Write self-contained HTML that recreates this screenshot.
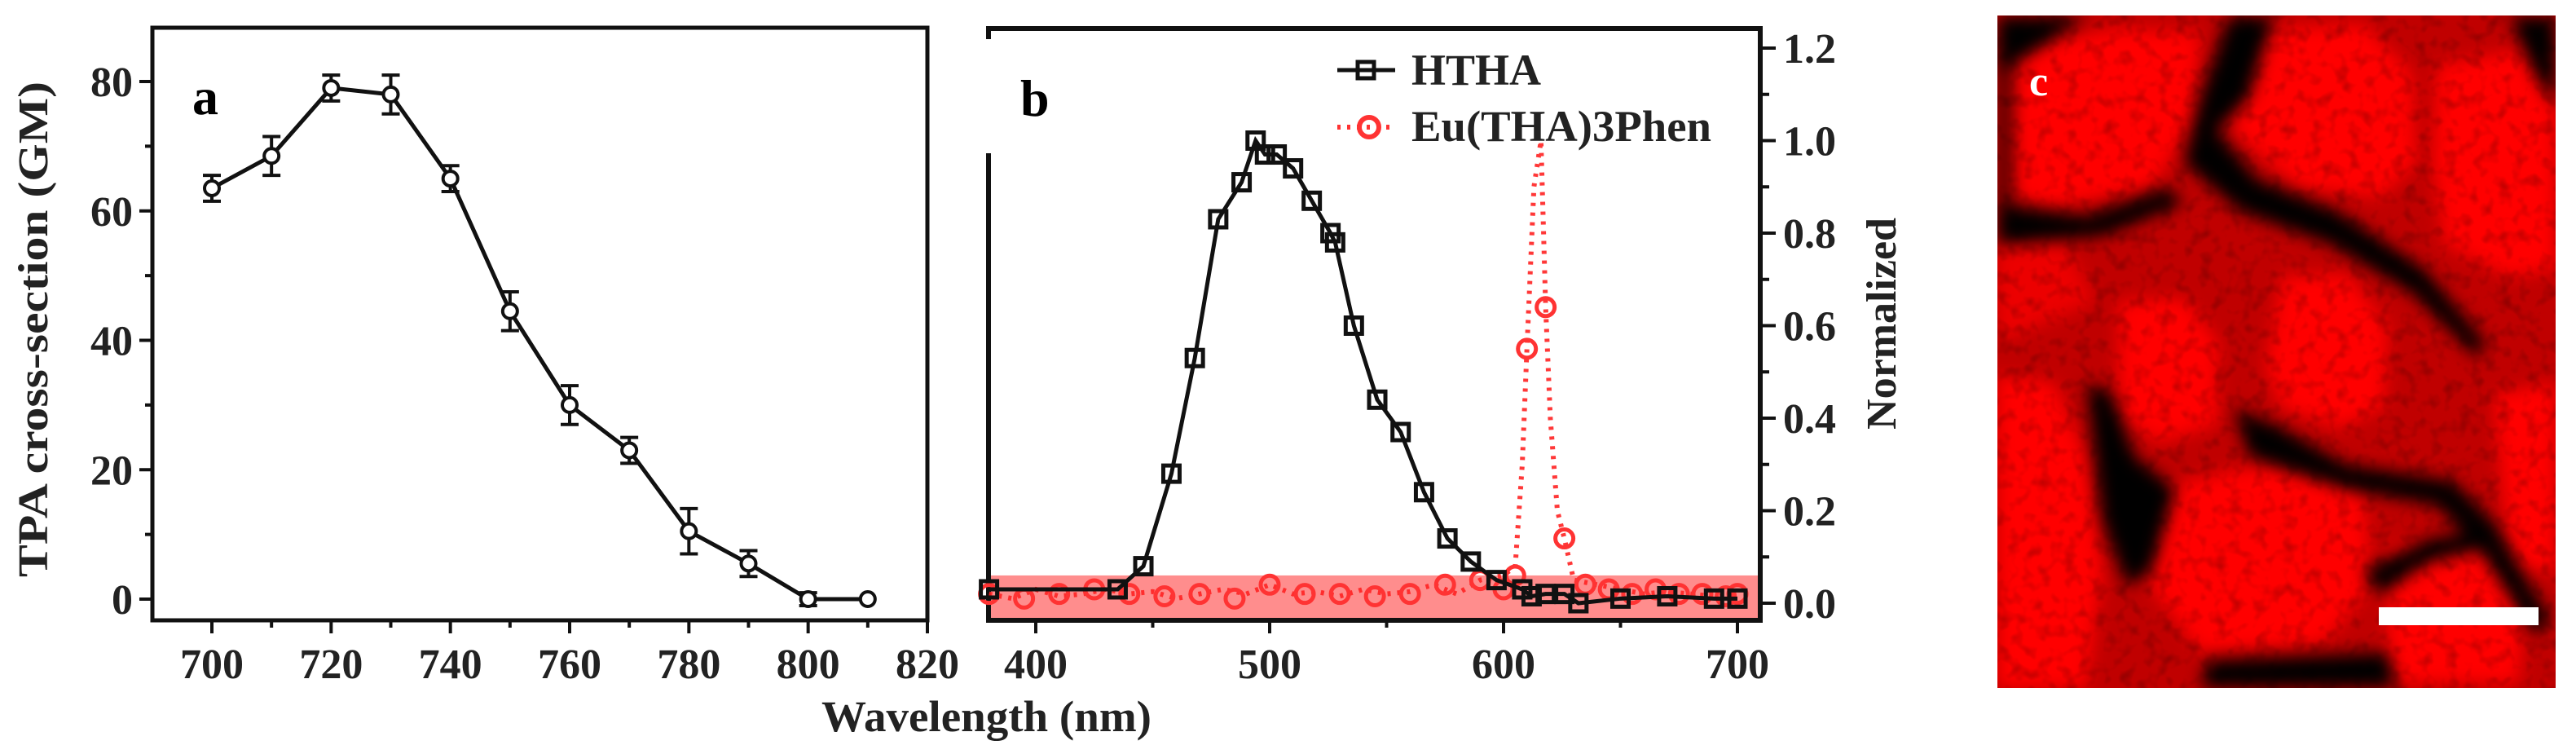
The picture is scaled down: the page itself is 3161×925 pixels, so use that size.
<!DOCTYPE html>
<html><head><meta charset="utf-8"><style>
html,body{margin:0;padding:0;background:#fff;}
svg{display:block;}
text{font-family:"Liberation Serif",serif;font-weight:bold;}
</style></head><body>
<svg id="fig" width="3161" height="925" viewBox="0 0 3161 925" xmlns="http://www.w3.org/2000/svg">
<defs>
<filter id="blur6" x="-20%" y="-20%" width="140%" height="140%"><feGaussianBlur stdDeviation="10"/></filter>
<filter id="blur3"><feGaussianBlur stdDeviation="3"/></filter>
<filter id="noise"><feTurbulence type="fractalNoise" baseFrequency="0.06" numOctaves="2" seed="3"/><feColorMatrix type="matrix" values="0 0 0 0 0  0 0 0 0 0  0 0 0 0 0  0 0 0 1.6 -0.75"/></filter>
<clipPath id="clipC"><rect x="2451" y="19" width="685" height="825"/></clipPath>
</defs>
<g id="panelA"></g>
<g id="panelB"></g>
<g id="panelC" clip-path="url(#clipC)">
  <rect x="2451" y="19" width="685" height="825" fill="#c00000"/>
  <g filter="url(#blur6)" fill="#ff0000">
    <path d="M2470,60 L2600,35 L2700,40 L2690,150 L2640,230 L2520,254 L2469,240 Z"/>
    <path d="M2735,70 L2790,35 L2900,30 L2960,90 L2965,200 L2920,242 L2820,230 L2740,160 Z"/>
    <path d="M2990,80 L3100,60 L3136,120 L3136,330 L3080,340 L3000,300 L2985,200 Z"/>
    <path d="M2800,340 L2880,336 L2930,400 L2925,500 L2870,525 L2800,500 L2780,450 Z"/>
    <path d="M2600,370 L2680,366 L2722,420 L2720,520 L2650,543 L2600,510 Z"/>
    <path d="M2451,460 L2520,470 L2560,560 L2580,700 L2560,844 L2451,844 Z"/>
    <path d="M2640,600 L2780,570 L2900,600 L2910,720 L2850,790 L2700,800 L2640,720 Z"/>
    <path d="M3060,484 L3136,470 L3136,700 L3080,700 Z"/>
    <path d="M2930,670 L3050,660 L3100,720 L3090,838 L2930,838 Z"/>
    <path d="M2451,290 L2530,290 L2570,370 L2451,420 Z" opacity="0.7"/>
  </g>
  <rect x="2451" y="19" width="685" height="825" filter="url(#noise)" opacity="0.35"/>
  <g filter="url(#blur6)" fill="#000">
    <path d="M2735,20 L2790,20 L2760,120 L2720,160 L2770,220 L2870,260 L2975,330 L3050,420 L3040,440 L2960,360 L2860,300 L2750,260 L2680,200 L2700,120 Z"/>
    <path d="M2451,250 L2560,265 L2660,230 L2680,250 L2580,290 L2451,300 Z"/>
    <path d="M2451,20 L2560,20 L2470,80 L2451,90 Z"/>
    <path d="M2560,470 L2590,480 L2620,560 L2670,600 L2640,700 L2610,720 L2580,640 Z"/>
    <path d="M2740,500 L2790,520 L2880,570 L3010,590 L3060,640 L3130,760 L3110,780 L3040,670 L2990,620 L2880,600 L2760,560 Z"/>
    <path d="M2710,810 L2930,800 L2940,844 L2700,844 Z"/>
    <path d="M2900,700 L2980,660 L3050,650 L3060,670 L2980,690 L2920,730 Z"/>
    <path d="M3080,20 L3136,20 L3136,130 L3110,90 Z"/>
    <path d="M2451,60 L2470,60 L2470,300 L2451,300 Z" opacity="0.6"/>
  </g>
  <rect x="2919" y="745" width="196" height="22" fill="#fff"/>
  <text x="2490" y="117" font-size="52" fill="#fff">c</text>
</g>
<script>
// ---------- Panel a data ----------
const aWavelengths = [700,710,720,730,740,750,760,770,780,790,800,810];
const aValues = [63.5,68.5,79,78,65,44.5,30,23,10.5,5.5,0,0];
const aErrors = [2,3,2,3,2,3,3,2,3.5,2,1,0];
const aXTicks = [700,720,740,760,780,800,820];
const aYTicks = [0,20,40,60,80];
// ---------- Panel b data ----------
const hthaX = [380,435,446,458,468,478,488,494,498,503,510,518,526,528,536,546,556,566,576,586,597,608,612,618,626,632,650,670,690,700];
const hthaY = [0.03,0.03,0.08,0.28,0.53,0.83,0.91,1.0,0.97,0.97,0.94,0.87,0.80,0.78,0.60,0.44,0.37,0.24,0.14,0.09,0.05,0.03,0.015,0.02,0.02,0.0,0.01,0.015,0.01,0.01];
const euX = [380,390,400,410,420,430,440,450,460,470,480,490,500,510,520,530,540,550,560,570,580,590,600,605,608,610,613,616,618,620,623,626,630,640,650,660,670,680,690,700];
const euY = [0.02,0.01,0.03,0.015,0.02,0.03,0.02,0.025,0.01,0.02,0.03,0.02,0.04,0.02,0.025,0.015,0.03,0.02,0.025,0.04,0.02,0.05,0.06,0.08,0.3,0.55,0.9,1.0,0.64,0.4,0.2,0.14,0.05,0.04,0.03,0.02,0.025,0.02,0.015,0.02];
const euMarkX = [380,395,410,425,440,455,470,485,500,515,530,545,560,575,590,600,605,610,618,626,635,645,655,665,675,685,695,700];
const euMarkY = [0.02,0.01,0.02,0.03,0.02,0.015,0.02,0.01,0.04,0.02,0.02,0.015,0.02,0.04,0.05,0.03,0.06,0.55,0.64,0.14,0.04,0.03,0.02,0.03,0.02,0.02,0.015,0.02];
const bXTicks = [400,500,600,700];
const bYTicks = [0,0.2,0.4,0.6,0.8,1.0,1.2];
const bYTickLabels = ["0.0","0.2","0.4","0.6","0.8","1.0","1.2"];

const NS = "http://www.w3.org/2000/svg";
function mk(parent, tag, attrs){const e=document.createElementNS(NS,tag);for(const k in attrs)e.setAttribute(k,attrs[k]);parent.appendChild(e);return e;}

// ---------- Panel a ----------
(function(){
  const g = document.getElementById('panelA');
  const L=187,R=1138,T=34,B=761;
  const ax = v => 260 + (v-700)*(1138-260)/120;
  const ay = v => 735 - v*(735-100)/80;
  let fr = mk(g,'rect',{x:L,y:T,width:R-L,height:B-T,fill:'none',stroke:'#111','stroke-width':5});
  
  
  for(let v=700; v<=820; v+=10){
    const major = aXTicks.includes(v);
    let t=mk(g,'line',{x1:ax(v),x2:ax(v),y1:B,y2:B+(major?16:9),stroke:'#111','stroke-width':4});
    
    
  }
  aXTicks.forEach(v=>{
    let t=mk(g,'text',{x:ax(v),y:832,'font-size':52,'text-anchor':'middle',fill:'#222'});
    t.textContent=v;
    
    
  });
  for(let v=0; v<=80; v+=10){
    const major = aYTicks.includes(v);
    let t=mk(g,'line',{x1:L,x2:L-(major?16:9),y1:ay(v),y2:ay(v),stroke:'#111','stroke-width':4});
    
    
  }
  aYTicks.forEach(v=>{
    let t=mk(g,'text',{x:163,y:ay(v)+18,'font-size':52,'text-anchor':'end',fill:'#222'});
    t.textContent=v;
    
    
  });
  let yt=mk(g,'text',{x:0,y:0,'font-size':52,'text-anchor':'middle',fill:'#222',transform:'translate(58,404) rotate(-90)',textLength:608,lengthAdjust:'spacingAndGlyphs'});
  yt.textContent='TPA cross-section (GM)';
  
  
  let xt=mk(g,'text',{x:1008,y:897,'font-size':54,fill:'#222',textLength:405,lengthAdjust:'spacingAndGlyphs'});
  xt.textContent='Wavelength (nm)';
  
  
  let lab=mk(g,'text',{x:236,y:140,'font-size':64,fill:'#000'});
  lab.textContent='a';
  
  
  const pts = aWavelengths.map((w,i)=>ax(w)+','+ay(aValues[i])).join(' ');
  let pl=mk(g,'polyline',{points:pts,fill:'none',stroke:'#111','stroke-width':5});
  
  
  aWavelengths.forEach((w,i)=>{
    const x=ax(w), y=ay(aValues[i]), e=aErrors[i];
    if(e>0){
      let eb=mk(g,'path',{d:`M${x},${ay(aValues[i]+e)} V${ay(aValues[i]-e)} M${x-11},${ay(aValues[i]+e)} H${x+11} M${x-11},${ay(aValues[i]-e)} H${x+11}`,stroke:'#111','stroke-width':4,fill:'none'});
      
      
    }
    let c=mk(g,'circle',{cx:x,cy:y,r:9,fill:'#fff',stroke:'#111','stroke-width':4});
    
    
  });
})();

// ---------- Panel b ----------
(function(){
  const g = document.getElementById('panelB');
  const L=1213,R=2160,T=35,B=761;
  const bx = v => 1271 + (v-400)*(2132-1271)/300;
  const by = v => 740 - v*(740-59)/1.2;
  let fr = mk(g,'rect',{x:L,y:T,width:R-L,height:B-T,fill:'none',stroke:'#111','stroke-width':6});
  
  
  let wb = mk(g,'rect',{x:1208,y:48,width:190,height:140,fill:'#fff'});
  
  
  for(let v=400; v<=700; v+=50){
    const major = bXTicks.includes(v);
    let t=mk(g,'line',{x1:bx(v),x2:bx(v),y1:B,y2:B+(major?16:9),stroke:'#111','stroke-width':4});
    
    
  }
  bXTicks.forEach(v=>{
    let t=mk(g,'text',{x:bx(v),y:832,'font-size':52,'text-anchor':'middle',fill:'#222'});
    t.textContent=v;
    
    
  });
  for(let k=0;k<=12;k++){
    const v=k*0.1, major=(k%2===0);
    let t=mk(g,'line',{x1:R,x2:R+(major?19:11),y1:by(v),y2:by(v),stroke:'#111','stroke-width':4});
    
    
  }
  bYTicks.forEach((v,i)=>{
    let t=mk(g,'text',{x:2188,y:by(v)+18,'font-size':52,fill:'#222'});
    t.textContent=bYTickLabels[i];
    
    
  });
  let yt=mk(g,'text',{x:0,y:0,'font-size':52,'text-anchor':'middle',fill:'#222',transform:'translate(2326,397) rotate(-90)'});
  yt.textContent='Normalized';
  
  
  let lab=mk(g,'text',{x:1252,y:142,'font-size':64,fill:'#000'});
  lab.textContent='b';
  
  
  let base=mk(g,'rect',{x:L+3,y:by(0.06),width:R-L-6,height:B-by(0.06)-3,fill:'#ff3030',opacity:0.55});
  
  
  let ep=mk(g,'polyline',{points:euX.map((x,i)=>bx(x)+','+by(euY[i])).join(' '),fill:'none',stroke:'#f22','stroke-width':6,'stroke-dasharray':'4 8',opacity:0.9});
  
  
  euMarkX.forEach((x,i)=>{
    let c=mk(g,'circle',{cx:bx(x),cy:by(euMarkY[i]),r:11,fill:'none',stroke:'#f33','stroke-width':5});
    
    
  });
  let hp=mk(g,'polyline',{points:hthaX.map((x,i)=>bx(x)+','+by(hthaY[i])).join(' '),fill:'none',stroke:'#111','stroke-width':5});
  
  
  hthaX.forEach((x,i)=>{
    let s=mk(g,'rect',{x:bx(x)-10,y:by(hthaY[i])-10,width:20,height:20,fill:'none',stroke:'#111','stroke-width':5});
    
    
  });
  let l1=mk(g,'line',{x1:1641,x2:1712,y1:86,y2:86,stroke:'#111','stroke-width':5});
  
  
  let l1m=mk(g,'rect',{x:1666,y:76,width:20,height:20,fill:'none',stroke:'#111','stroke-width':5});
  
  
  let l1t=mk(g,'text',{x:1732,y:104,'font-size':54,fill:'#222'});
  l1t.textContent='HTHA';
  
  
  let l2=mk(g,'line',{x1:1641,x2:1712,y1:156,y2:156,stroke:'#f33','stroke-width':6,'stroke-dasharray':'4 8'});
  
  
  let l2m=mk(g,'circle',{cx:1680,cy:156,r:12,fill:'none',stroke:'#f33','stroke-width':6});
  
  
  let l2t=mk(g,'text',{x:1732,y:173,'font-size':54,fill:'#222',textLength:368,lengthAdjust:'spacingAndGlyphs'});
  l2t.textContent='Eu(THA)3Phen';
  
  
})();
</script>
</svg>
</body></html>
